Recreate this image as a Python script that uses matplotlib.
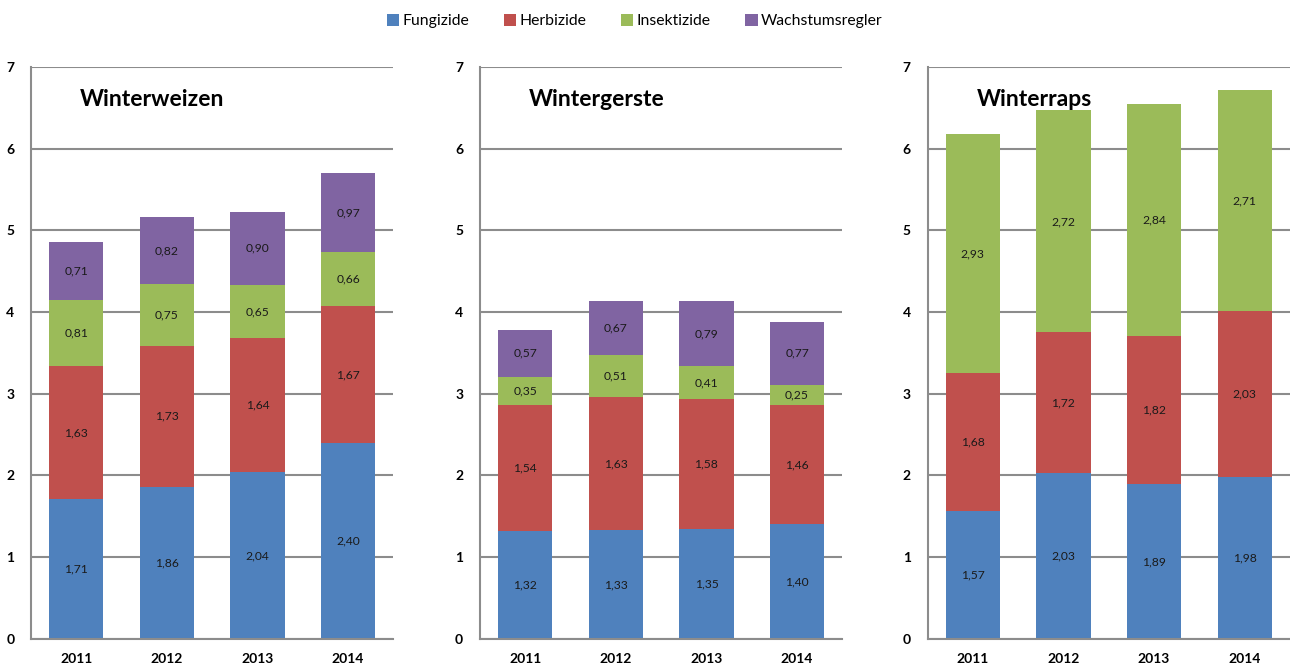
import numpy as np
import matplotlib
matplotlib.use("Agg")
import matplotlib.pyplot as plt
from matplotlib.patches import Patch

plt.rcParams['font.family'] = ['Lato', 'DejaVu Sans']

# ------------ data ------------
years = ["2011", "2012", "2013", "2014"]
categories = ["Fungizide", "Herbizide", "Insektizide", "Wachstumsregler"]
colors = ["#4F81BD", "#C0504D", "#9BBB59", "#8064A2"]

weizen_fung = [1.71, 1.86, 2.04, 2.40]
weizen_herb = [1.63, 1.73, 1.64, 1.67]
weizen_insk = [0.81, 0.75, 0.65, 0.66]
weizen_wach = [0.71, 0.82, 0.90, 0.97]

gerste_fung = [1.32, 1.33, 1.35, 1.40]
gerste_herb = [1.54, 1.63, 1.58, 1.46]
gerste_insk = [0.35, 0.51, 0.41, 0.25]
gerste_wach = [0.57, 0.67, 0.79, 0.77]

raps_fung = [1.57, 2.03, 1.89, 1.98]
raps_herb = [1.68, 1.72, 1.82, 2.03]
raps_insk = [2.93, 2.72, 2.84, 2.71]

panels = [
    ("Winterweizen", [weizen_fung, weizen_herb, weizen_insk, weizen_wach]),
    ("Wintergerste", [gerste_fung, gerste_herb, gerste_insk, gerste_wach]),
    ("Winterraps", [raps_fung, raps_herb, raps_insk]),
]

# ------------ plotting ------------
fig = plt.figure(figsize=(12.9, 6.64), dpi=100)
lefts = [0.024, 0.372, 0.719]
GRID = "#8c8c8c"

x = np.arange(len(years))
for left, (title, series) in zip(lefts, panels):
    ax = fig.add_axes([left, 0.038, 0.281, 0.861])
    bottom = np.zeros(len(years))
    for vals, col in zip(series, colors):
        vals = np.array(vals)
        ax.bar(x, vals, 0.6, bottom=bottom, color=col, zorder=2)
        for xi, b, v in zip(x, bottom, vals):
            ax.text(xi, b + v / 2, f"{v:.2f}".replace(".", ","),
                    ha='center', va='center', fontsize=8.7, color='#1a1a1a', zorder=3)
        bottom += vals

    ax.set_xlim(-0.5, len(years) - 0.5)
    ax.set_ylim(0, 7)
    ax.set_yticks(range(8))
    ax.set_xticks(x)
    ax.set_xticklabels(years)
    ax.yaxis.grid(True, color=GRID, linewidth=1.5, zorder=0)
    ax.set_axisbelow(True)
    for s in ['top', 'right']:
        ax.spines[s].set_visible(False)
    for s in ['left', 'bottom']:
        ax.spines[s].set_color(GRID)
        ax.spines[s].set_linewidth(1.5)
    ax.tick_params(axis='both', length=0, labelsize=10)
    ax.tick_params(axis='y', pad=12)
    ax.tick_params(axis='x', pad=10)
    for lab in ax.get_xticklabels() + ax.get_yticklabels():
        lab.set_fontweight('bold')

    # panel title sits inside the plot area, upper left
    ax.text(0.135, 6.6, title, transform=ax.get_yaxis_transform(),
            fontsize=16.5, fontweight='bold', ha='left', va='center', zorder=4)

handles = [Patch(facecolor=c) for c in colors]
fig.legend(handles, categories, loc='center', bbox_to_anchor=(0.492, 0.968), ncol=4,
           frameon=False, fontsize=11.3, handlelength=0.8, handleheight=0.8,
           handletextpad=0.2, columnspacing=2.2)

fig.savefig("out.png", dpi=100)
